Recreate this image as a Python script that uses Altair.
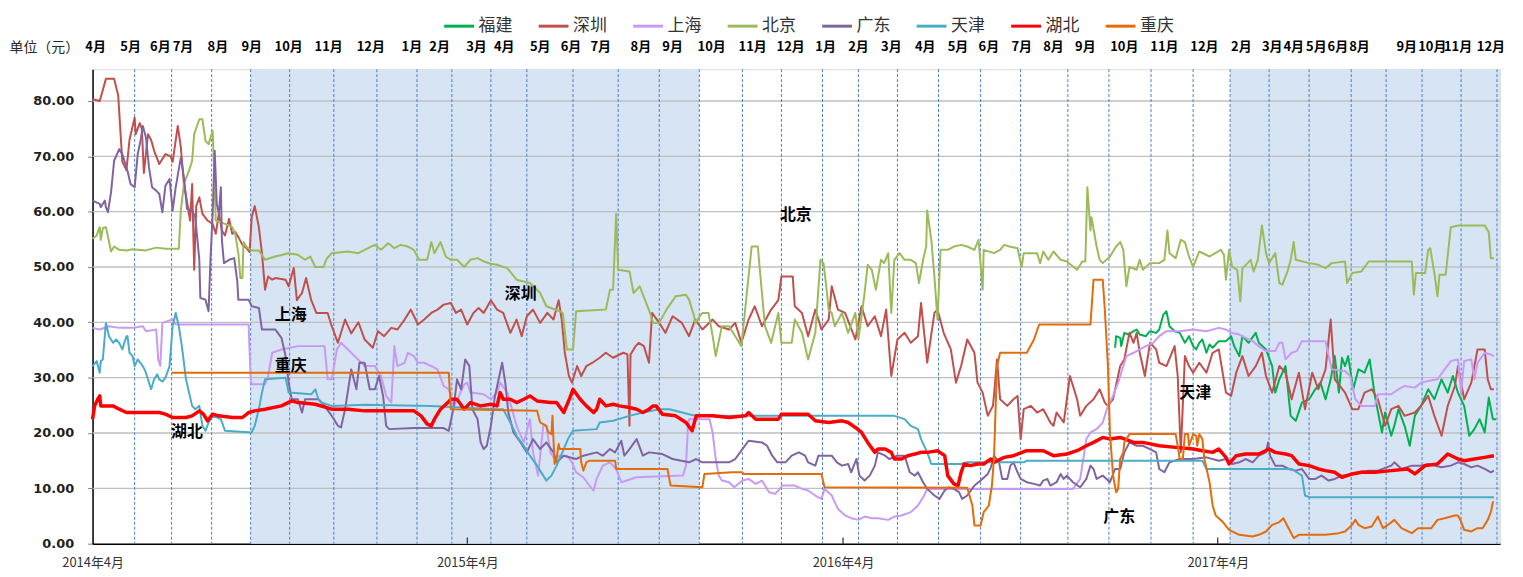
import altair as alt
import pandas as pd

# ---------------- data ----------------
BASE_DATE = "2014-04-01"          # day 0 of the time axis
Y_MAX = 85.75                     # top of the value axis
Y_TICKS = [0, 10, 20, 30, 40, 50, 60, 70, 80]

SERIES = ["福建", "深圳", "上海", "北京", "广东", "天津", "湖北", "重庆"]
COLORS = ["#00B050", "#C0504D", "#C99AF5", "#9BBB59", "#8064A2", "#4BACC6", "#FF0000", "#E46C0A"]

# x = days since 2014-04-01, y = price (元)
SZ_DAY = [0,7,10,13,21,25,27,29,33,36,41,42,46,48,50,54,57,60,65,71,76,78,83,86,89,91,95,97,99,101,
          104,107,112,117,120,123,126,129,133,136,139,142,146,150,153,155,158,162,165,168,
          171,175,178,188,191,196,199,204,208,213,218,229,233,239,246,252,259,265,273,278,
          284,291,297,304,310,317,323,330,336,342,349,354,359,365,371,376,381,388,394,
          400,407,413,418,423,429,436,443,449,454,457,460,464,467,472,476,481,487,494,500,
          507,517,521,523,524,529,532,537,542,545,552,558,565,574,581,587,594,604,610,620,
          626,632,639,645,652,661,668,671,682,684,691,697,704,710,717,720,726,733,743,749,
          755,762,768,773,778,784,791,797,804,807,813,820,823,829,836,841,846,852,859,862,
          867,872,877,
          878,881,884,891,897,901,904,907,914,920,926,933,936,939,946,952,959,962,968,975,
          981,986,989,994,1001,1005,1010,1014,1017,1020,1025,1030,1036,1039,1046,1054,1057,1060,1064,1068,
          1072,1078,1085,1091,1097,1104,1109,1114,1120,1126,1133,1139,1143,1149,1156,1162,1168,1175,1181,1188,
          1194,1201,1206,1210,1220,1227,1233,1239,1246,1252,1259,1265,1272,1278,1288,1294,1301,1307,1314,1320,
          1327,1330,1336,1343,1349,1356,1359,1362,1365]
SZ_VAL = [80.3,80.0,82,84,84,81,75,69,67.5,73,77,74,76,75,67,74,73,71,68.6,70.4,
          70,69,75.5,71.6,65,63,58.4,65,49.5,61,62.6,59.6,58.4,57.8,56,59.6,56.6,55.7,58.7,56,
          56.3,55.4,54,53.4,52.7,59,61,57.2,52.5,45.9,48.3,47.7,48,47.7,46.5,49.8,44,45.3,48,44,
          41.7,41.7,39.3,36.3,40.5,38,40,36.9,35.4,38.4,37.5,39,38.7,40.5,42.3,39.6,40.5,41.7,42.3,43.2,
          43.5,41.7,42.3,39.6,41.7,42.6,41.7,44,42.3,
          41.7,38.1,40.5,37.5,41.1,42.3,39.9,41.7,40.5,44,40.5,34.5,30.3,29.1,32.1,30.3,32.1,32.7,33.6,34.5,
          33.6,34.5,34.2,21.3,34.2,35.7,36.3,35.7,32.7,41.7,39.9,38.1,41.1,39.9,37.5,40.5,38.7,40.5,39.3,38.7,
          39.9,36.3,40.5,42.9,39.3,42.3,44,48.3,48.3,42.9,41.7,37.5,42.3,38.7,40.5,46.5,42.3,41.7,36.9,42.9,
          39.3,41.1,37.5,42.3,30.3,36.9,38.1,36.3,37.5,43.5,32.7,41.7,42.3,38.1,35.1,29.1,32.1,36.9,34.5,29.1,
          27.3,23.1,24.9,
          26.7,33.3,26.1,24.9,26.1,26.7,18.9,24.3,24.9,23.7,24.3,21.9,21.3,23.7,21.9,30.3,26.1,23.1,24.9,26.1,
          27.9,25.5,24.9,26.1,32.1,33.3,38.1,36.3,38.1,34.5,30.3,36.3,35.1,32.7,32.1,35.7,30.3,16.5,33.9,32.1,
          30.9,32.7,30.9,34.5,35.1,27.3,26.7,30.9,33.9,30.3,32.1,34.5,30.3,27.3,32.1,30.9,26.1,30.9,24.3,30.9,
          27.9,31.5,40.5,29.7,27.3,24.3,24.3,27.3,27.9,26.1,21.3,24.3,24.9,23.1,23.7,24.9,26.7,23.1,19.5,24.9,
          28.5,32.1,26.1,29.1,35.1,35.1,29.7,27.9,27.9]

BJ_DAY = [0,4,7,8,10,13,15,18,21,26,33,39,52,62,71,84,86,89,94,97,
          99,104,107,110,113,117,118,120,129,136,139,142,144,146,147,150,155,162,168,178,
          191,200,207,212,217,225,228,233,249,259,265,275,281,288,294,300,307,313,318,326,
          330,333,339,344,349,355,362,368,375,381,388,394,
          404,413,426,436,442,455,458,462,468,471,500,504,507,510,512,523,527,533,538,543,
          546,552,559,568,578,581,586,587,594,600,604,607,613,620,626,632,642,648,652,655,
          661,668,671,681,684,691,697,704,709,712,715,717,720,723,730,736,743,746,752,755,
          759,763,768,771,775,778,781,786,791,797,802,805,809,812,813,817,820,823,826,833,
          839,846,852,859,863,867,868,878,
          884,888,893,901,905,907,920,923,926,931,936,943,949,959,964,967,969,972,973,978,
          981,984,991,997,1001,1004,1007,1010,1017,1020,1023,1030,1039,1044,1047,1049,1055,1060,1064,1068,
          1072,1078,1088,1099,1102,1104,1107,1110,1115,1118,1120,1128,1131,1135,1139,1143,1146,1152,1156,1159,
          1164,1167,1170,1172,1185,1194,1201,1207,1220,1222,1227,1236,1243,1285,1287,1289,1298,1301,1303,1307,
          1310,1312,1318,1323,1330,1356,1360,1362,1365]
BJ_VAL = [55.1,55.7,57.2,54.9,57,57.2,55.5,52.8,53.7,53.1,53,53.2,53,53.5,53.3,53.3,60.2,65,67.4,69.2,
          74,76.7,76.7,72.8,72.2,74.6,69.8,58.4,57.8,57.2,56,52.5,48,48,54.5,53.6,53,53,51.3,51.9,
          52.5,52.2,51.3,51.9,50,50,51.5,52.5,52.8,52.5,53.1,54,53.1,54.3,53.4,54,53.7,53.1,51.3,51.3,
          54.5,52.5,54.5,51.9,51.3,51.3,50,51.3,51.6,51,50.6,50.4,
          49.8,47.7,47.1,45.3,42.9,42,41.7,35.1,35.1,42,42.3,45.9,45.9,59.6,49.5,49.2,45.3,46.5,44.1,41.7,
          39.9,39.9,42.3,44.7,45,44.1,41.1,39.9,41.7,41.7,37.5,33.9,39.3,39.3,37.5,35.7,53.7,53.7,45.3,39.3,
          36.3,41.7,36.3,36.3,40.5,38.1,33.3,38.1,51.3,50.7,45.9,42.3,41.7,39.3,41.7,38.1,41.7,36.9,45.3,50.4,
          49.5,45.9,51.3,50.7,52.5,41.7,51.3,52.5,51.3,51.3,50.7,47.1,51.3,53.7,60.2,54.9,48.3,40.5,53.1,53.1,
          53.7,54,53.7,53.1,54.9,45.9,53.1,52.5,
          53.1,54,53.7,53.4,50,52.5,52.5,50.7,52.8,51.3,52.8,51.3,51,49.5,51,51,64.4,56.6,59,53.7,
          51.3,50.7,51.9,53.7,54.5,53.1,46.5,50,49.5,51.3,49.5,50.7,50.7,51.3,56.6,52.5,51.6,54.9,54.5,51.9,
          50,52.8,51.9,53.1,52.2,47.7,53.1,50,49.5,43.8,49.7,51.3,49.2,51.3,57.5,52.5,50.7,52.5,47.1,46.8,
          49.2,51.3,54.5,51.3,50.7,50.4,49.8,50.7,51,47.1,48.9,49.2,51,51,45,48.9,48.9,53.1,53.4,48.9,
          44.7,48.6,48.6,57.2,57.5,57.5,56.3,51.6,51.6]

GD_DAY = [0,7,8,12,13,15,18,21,26,29,34,37,41,44,47,49,52,55,58,62,
          65,68,71,75,78,81,86,89,92,97,100,104,105,110,113,115,117,119,121,123,
          125,126,128,133,138,141,142,152,155,162,165,178,184,188,191,194,200,204,207,220,
          226,233,239,242,246,252,257,260,265,270,275,279,283,286,289,313,342,347,352,355,
          359,363,367,370,375,378,381,384,388,392,
          399,402,405,410,417,423,429,436,442,449,452,459,471,478,491,497,504,509,515,518,
          523,530,536,542,555,565,581,588,594,620,626,633,639,652,657,662,667,675,681,688,
          694,697,704,707,720,725,730,736,739,744,747,752,757,762,765,772,776,784,791,796,
          801,804,809,813,820,825,830,834,839,844,847,852,859,865,872,875,
          878,883,886,891,894,897,901,904,910,917,923,926,930,933,939,943,946,949,955,962,
          968,972,975,978,984,991,996,1001,1005,1010,1017,1023,1030,1036,1039,1044,1049,1059,1072,1085,
          1097,1104,1110,1117,1123,1130,1136,1143,1145,1147,1152,1159,1165,1172,1178,1185,1191,1197,1204,1210,
          1217,1223,1233,1243,1252,1265,1268,1275,1285,1294,1301,1307,1314,1323,1330,1336,1343,1349,1356,1362,1365]
GD_VAL = [62,61.4,60.8,62,60.8,59.9,63.5,69.2,71.3,70.4,67.4,65,64.4,70.4,73.1,75.5,73.4,68,64.4,63.8,
          63.2,59.9,64.7,65.9,60.2,64.4,69.8,66.2,60.5,60.2,59,51.3,44.4,44.1,42,51.9,59.6,71,61.4,59.6,
          64.4,54.8,50.7,51.3,51.6,47.4,44.1,44.1,42.9,42.6,38.7,38.7,37.2,33.9,29.1,26.1,26.1,23.7,26.1,26.1,
          24.9,23.1,21.3,21,24.3,31.5,27.9,32.7,32.7,27.9,27.9,30.3,26.7,21.3,20.7,20.9,20.9,20.4,24.9,29.7,
          27.9,33.3,32.1,24.3,22.5,18.3,17.1,17.7,21.3,26.7,
          32.7,29.1,23.7,20.1,18.3,16.5,18.9,17.1,18.3,16.5,14.7,15.9,15.3,15.9,16.5,15.9,17.1,16.5,18.6,15.9,
          17.1,18.9,15.9,16.5,16.2,15.3,14.7,15.3,14.7,14.7,15.3,17.1,18.6,18.3,17.7,15.9,14.7,14.7,15.9,16.5,
          15.9,14.7,14.1,15.9,15.9,14.7,14.1,14.4,12.9,15.3,12.3,11.4,12.3,14.1,16.5,15.9,15.3,15.9,15.9,12.9,
          12.3,12.9,11.1,9.9,8.7,8.1,9.6,10.2,9.9,9.3,8.1,8.7,10.5,11.4,12.6,13.8,
          15.9,14.7,11.7,11.7,14.1,14.7,12.9,11.7,11.1,10.8,10.5,11.4,11.7,10.5,11.1,12.6,11.7,12.3,11.1,10.2,
          11.7,14.1,13.5,11.7,12.3,11.1,13.5,13.5,16.5,18.3,17.7,17.7,17.1,16.5,13.5,12.9,14.7,15.3,15.3,15.6,
          15,15.3,14.4,14.7,15.3,14.7,15.9,16.5,18.3,15.9,14.1,14.1,13.5,13.2,13.5,11.7,11.7,12.3,11.4,11.7,
          12.3,12.3,12.9,13.2,13.2,14.1,14.7,13.5,14.1,14.1,14.4,14.1,13.8,14.1,14.7,14.4,13.8,14.1,13.5,12.9,13.2]

SH_DAY = [0,7,16,26,39,49,52,62,64,66,68,78,81,152,154,155,168,171,175,184,
          200,226,229,233,238,242,252,265,275,281,286,291,294,297,304,307,313,317,323,330,
          336,342,347,352,357,362,365,368,381,388,394,
          397,404,413,420,426,429,434,439,442,446,450,455,462,467,471,478,484,488,491,497,
          504,510,515,530,575,578,580,581,601,604,607,610,613,620,625,633,639,646,652,659,
          665,672,684,691,697,704,710,713,720,726,733,739,746,752,759,765,775,781,788,797,
          804,810,813,878,
          955,962,965,968,972,978,984,989,994,999,1004,1007,1014,1020,1026,1033,1039,1046,1059,1072,
          1085,1097,1104,1110,1117,1123,1130,1136,1143,1152,1156,1159,1162,1168,1173,1178,1201,1204,1207,1220,
          1225,1230,1236,1249,1252,1265,1272,1278,1288,1294,1301,1310,1317,1323,1330,1333,1336,1343,1346,1349,
          1356,1362,1365]
SH_VAL = [39,38.7,39.3,39,39,39.3,38.4,38.7,33.3,32.1,39.9,40.5,39.6,39.6,29.7,28.8,28.8,30.3,34.5,35.1,
          35.7,35.7,29.7,29.7,35.1,36.3,34.5,32.1,32.1,30.3,26.7,25.5,35.7,32.1,32.7,34.5,33.9,32.7,32.7,32.1,
          31.5,28.5,27.9,24.9,26.7,28.8,29.1,27.3,27,26.1,27.3,
          29.1,27.3,21.3,18.3,22.5,16.5,12.3,21.3,21.3,16.5,15.3,15.9,15.9,14.7,12.9,12,10.5,9.6,11.7,14.1,
          14.7,13.5,11.1,12,12.3,14.1,21.3,22.5,22.5,20.1,15.3,12.3,11.4,11.1,10.2,11.4,11.7,10.8,11.4,9.3,
          9,10.5,10.5,9.9,9.6,8.7,8.1,9.9,8.7,6.3,5.1,4.6,4.3,4.9,4.6,4.6,4.3,4.9,5.1,5.7,
          6.9,8.7,9.9,9.9,
          9.9,11.7,15.3,18.9,20.1,20.7,21.9,24.9,26.7,29.1,32.1,33.9,34.5,35.1,35.7,36.3,37.5,38.4,38.4,38.7,
          38.4,39,38.7,38.1,37.8,37.2,36.6,35.7,34.8,34.8,36.3,36.3,33.3,34.5,34.8,36.6,36.6,33.9,31.5,31.2,
          30.3,26.1,24.9,24.9,27,27,27.9,28.5,28.2,29.1,29.4,29.7,31.5,33,33.3,27.3,33,33.3,29.7,32.7,
          34.5,34.2,33.9]

TJ_DAY = [0,4,7,8,10,13,16,20,23,26,29,33,34,36,39,41,44,49,52,57,
          60,63,65,68,71,75,78,81,84,87,91,94,97,100,104,107,110,113,117,125,
          129,155,158,162,165,168,188,191,213,217,220,223,233,265,330,394,400,407,413,420,
          426,433,439,442,447,452,459,463,468,491,494,507,523,536,552,562,581,588,781,791,
          797,804,807,813,817,846,852,878,907,910,1081,1085,1168,1178,1181,1185,1365]
TJ_VAL = [32.1,33,30.9,33,33.3,39.9,37.5,36.3,36.9,36.3,35.1,37.5,37.5,34.5,33.9,32.1,33.3,32.1,30.9,27.9,
          29.7,30.6,29.7,29.3,30,32.1,39.3,41.7,39.3,35.7,29.7,27.3,24.9,24.3,24.9,21.3,20.4,21.9,23.1,22.5,
          20.4,20.1,21.3,24.3,27.3,29.7,30,27.3,27,27.9,26.1,25.5,24.9,25.1,24.9,24.3,24.3,21.9,19.5,17.7,
          15.9,14.1,12.3,11.4,12.3,14.1,17.1,18.9,20.4,20.7,21.9,22.2,23.1,23.7,24.3,24.3,23.4,23.1,23.1,22.5,
          21.3,20.7,18.9,16.5,14.4,14.4,14.7,14.7,14.7,15,15,13.5,13.5,12.3,8.7,8.4,8.4]

HB_DAY = [0,2,5,7,8,12,20,26,33,46,65,71,78,91,97,104,108,112,117,123,
          136,146,152,158,168,184,194,200,217,233,249,265,281,313,320,326,330,333,339,346,
          349,355,362,368,378,388,394,
          397,400,407,413,420,426,433,446,452,459,465,468,475,481,488,491,494,500,507,513,
          523,530,536,542,546,549,555,568,578,584,588,604,620,636,639,646,652,668,671,684,
          697,704,717,730,736,743,749,755,762,765,772,778,781,788,794,801,807,813,823,830,
          833,839,843,846,849,855,862,868,875,
          878,888,897,910,926,936,949,959,968,975,984,991,1001,1014,1023,1039,1055,1072,1081,1091,
          1097,1104,1107,1114,1123,1136,1146,1152,1162,1168,1175,1185,1194,1201,1210,1217,1227,1236,1249,1265,
          1281,1288,1298,1310,1320,1330,1336,1346,1356,1365]
HB_VAL = [22.5,24.9,26.1,26.7,24.9,24.9,24.9,24.3,23.7,23.7,23.7,23.4,22.8,22.8,23.1,24,23.4,22.2,23.4,23.1,
          22.8,22.8,23.7,24,24.3,24.9,25.8,25.5,25.2,24.3,24.3,24,24,24,23.1,21.6,21.3,22.5,24.3,25.5,
          26.1,26.1,24.3,25.5,24.9,25.2,24.9,
          27.3,26.1,26.1,25.5,26.1,26.7,25.8,25.5,25.5,23.7,26.4,27.9,26.1,24.9,23.7,24.3,26.1,24.9,25.2,24.9,
          24.6,24.3,23.7,24.3,24.9,24.9,23.4,23.1,21.9,20.4,23.1,23.1,22.8,23.1,23.7,22.5,22.5,22.5,23.4,23.4,
          23.4,22.2,21.9,22.2,21.9,21,20.1,18.3,16.5,17.1,17.1,16.5,15.3,15.3,15.9,16.2,16.5,16.5,16.8,15.9,
          12.3,10.8,10.5,12.9,14.4,14.1,14.4,14.4,15.3,
          14.7,15.6,15.9,16.8,16.8,15.9,16.2,16.8,17.7,18.3,19.2,18.9,19.2,18.3,18.3,17.7,17.4,17.1,16.8,16.5,
          17.1,15.6,14.4,15.9,16.2,16.2,17.1,16.5,16.2,15.9,14.4,14.1,13.5,13.2,12.9,12,12.6,12.9,12.9,13.2,
          13.5,12.6,14.1,14.4,16.2,15.3,15,15.3,15.6,15.9]

CQ_DAY = [77,347,349,433,436,442,444,447,448,450,452,454,455,475,476,478,481,484,509,510,
          560,563,594,596,623,633,634,710,713,852,857,859,865,868,873,876,878,881,884,910,
          917,922,972,975,984,986,989,991,994,997,999,1001,1004,1005,1010,1055,1057,1059,1062,1064,
          1067,1068,1072,1075,1076,1078,1081,1083,1088,1091,1094,1101,1107,1117,1130,1136,1143,1149,1156,1160,
          1165,1170,1175,1201,1214,1220,1227,1230,1233,1239,1246,1252,1257,1262,1268,1275,1285,1291,1304,1310,
          1317,1327,1330,1333,1336,1343,1349,1354,1359,1362,1364,1365]
CQ_VAL = [30.9,30.9,24.3,24,21.9,21.3,20.1,19.8,23.1,14.4,15.3,18,17.1,17.1,14.7,13.2,14.7,15,15,13.5,
          13.5,10.5,10.2,12.6,12.9,12.9,12.6,12.6,10.2,10.1,6.9,3.3,3.3,5.7,6.9,10.5,15.3,32.1,34.5,34.5,
          36.9,39.6,39.6,47.7,47.7,42.3,32.1,20.1,12.3,9.3,9.9,15.3,16.5,18.3,19.8,19.8,17.7,15.3,15.3,19.8,
          19.8,17.7,19.8,19.5,17.7,19.8,18.9,15.3,11.1,6.9,5.1,3.9,2.5,1.6,1.3,1.6,2.2,3.4,3.9,4.6,
          2.8,1,1.6,1.6,1.9,2.2,3.4,4.3,3.4,2.8,3.1,4.9,2.8,3.4,4.3,2.8,1.9,2.8,2.8,4.3,
          4.6,5.1,5.1,4,2.5,2.2,2.8,2.8,4.3,5.7,7.5,7.5]

FJ_DAY = [996,997,1001,1002,1005,1009,1014,1017,1020,1026,1030,1036,1039,1043,1046,1049,1054,1059,1064,1068,
          1072,1075,1078,1081,1085,1088,1091,1097,1104,1109,1112,1117,1120,1126,1133,1136,1143,1149,1152,1156,
          1162,1167,1172,1178,1185,1191,1196,1201,1206,1210,1214,1217,1220,1223,1228,1233,1239,1244,1249,1256,
          1259,1265,1268,1272,1278,1283,1288,1294,1301,1307,1314,1320,1325,1330,1336,1341,1346,1351,1356,1360,
          1364,1367]
FJ_VAL = [35.4,37.5,37.2,35.7,38.1,37.8,38.4,38.7,37.8,37.5,38.4,38.1,38.7,41.4,42,39.3,38.4,38.1,36.3,37.5,
          35.7,35.1,36.3,36.9,34.5,36,35.4,36.6,36.6,37.5,35.7,33.9,37.5,36.3,38.1,36.3,35.1,32.1,27.3,29.7,
          32.1,23.1,22.2,25.5,26.1,27.9,29.1,26.1,29.7,33.9,27.3,33.6,32.1,33.9,27.9,31.5,30.9,33.3,26.7,20.1,
          23.7,19.5,21.3,24.3,21.3,17.7,23.1,24.9,27.9,26.1,29.7,27.3,30.3,27.3,24.9,19.5,20.7,22.5,20.1,26.4,
          22.5,22.5]

# vertical dashed month separators and shaded periods (days since 2014-04-01)
DIVIDER_DAY = [41,77,116,154,192,235,277,316,350,388,423,468,512,552,591,633,671,711,746,784,
               824,865,904,950,990,1031,1072,1108,1146,1185,1226,1260,1295,1333,1368]
SHADE_START_DAY = [154, 1108]
SHADE_END_DAY = [591, 1371]
YEAR_TICK_DAY = [365, 731, 1096]

# month labels along the top
MONTH_LABEL = ["4月","5月","6月","7月","8月","9月","10月","11月","12月","1月","2月","3月",
               "4月","5月","6月","7月","8月","9月","10月","11月","12月","1月","2月","3月",
               "4月","5月","6月","7月","8月","9月","10月","11月","12月","2月","3月","4月",
               "5月","6月","8月","9月","10月","11月","12月"]
MONTH_LABEL_DAY = [3,37,66,88,122,155,191,230,271,311,338,374,401,436,466,495,534,565,603,643,
                   680,714,746,778,811,843,873,905,936,967,1005,1044,1083,1119,1149,1170,1192,1213,1234,1280,
                   1305,1330,1362]

# in-plot series names
NOTE_TEXT = ["北京", "深圳", "上海", "重庆", "湖北", "天津", "广东"]
NOTE_DAY = [685, 417, 193, 193, 92, 1074, 1000]
NOTE_VAL = [59.4, 45.2, 41.4, 32.1, 20.1, 27.3, 4.9]

# ---------------- tables ----------------
base = pd.Timestamp(BASE_DATE)


def to_date(days):
    return base + pd.to_timedelta(pd.Series(days, dtype="float64"), unit="D")


series_data = {
    "福建": (FJ_DAY, FJ_VAL), "深圳": (SZ_DAY, SZ_VAL), "上海": (SH_DAY, SH_VAL),
    "北京": (BJ_DAY, BJ_VAL), "广东": (GD_DAY, GD_VAL), "天津": (TJ_DAY, TJ_VAL),
    "湖北": (HB_DAY, HB_VAL), "重庆": (CQ_DAY, CQ_VAL),
}
frames = []
for name in SERIES:
    d, v = series_data[name]
    if len(d) != len(v):
        raise ValueError(f"{name}: {len(d)} days vs {len(v)} values")
    frames.append(pd.DataFrame({"date": to_date(d), "value": v, "series": name}))
lines_df = pd.concat(frames, ignore_index=True)

shade_df = pd.DataFrame({"start": to_date(SHADE_START_DAY), "end": to_date(SHADE_END_DAY),
                         "y0": 0.0, "y1": Y_MAX})
divider_df = pd.DataFrame({"date": to_date(DIVIDER_DAY)})
grid_df = pd.DataFrame({"v": Y_TICKS[1:]})
yeartick_df = pd.DataFrame({"date": to_date(YEAR_TICK_DAY), "y0": 0.0, "y1": 1.1})
month_df = pd.DataFrame({"date": to_date(MONTH_LABEL_DAY), "label": MONTH_LABEL})
note_df = pd.DataFrame({"date": to_date(NOTE_DAY), "value": NOTE_VAL, "label": NOTE_TEXT})

# ---------------- scales / axes ----------------
CJK = "Noto Sans CJK SC"
x_scale = alt.Scale(domain=[alt.DateTime(year=2014, month=4, date=1),
                            alt.DateTime(year=2018, month=1, date=1)], nice=False)
y_scale = alt.Scale(domain=[0, Y_MAX], nice=False, zero=True)

X_AXIS = alt.Axis(values=[alt.DateTime(year=y, month=4, date=1) for y in (2014, 2015, 2016, 2017)],
                  format="%Y年%-m月", labelFont=CJK, labelFontSize=13, labelColor="#333333",
                  labelPadding=13, ticks=False, grid=False, title=None, labelFlush=False,
                  domainColor="#000000", domainWidth=1.5)
Y_AXIS = alt.Axis(values=Y_TICKS, format=".2f", labelFont="DejaVu Sans", labelFontWeight="bold",
                  labelFontSize=13, labelColor="#1F1F1F", tickSize=5, tickColor="#808080",
                  labelPadding=14, grid=False, domainColor="#000000", domainWidth=1.5,
                  title="单位（元）", titleAngle=0, titleX=-49, titleY=-22, titleAlign="center",
                  titleBaseline="middle", titleFont=CJK, titleFontSize=14, titleFontWeight="normal",
                  titleColor="#262626")
LEGEND = alt.Legend(title=None, orient="none", legendX=352, legendY=-60, direction="horizontal",
                    columns=8, symbolType="stroke", symbolSize=900, symbolStrokeWidth=3,
                    labelFont=CJK, labelFontSize=17, labelColor="#333333", labelOffset=3,
                    columnPadding=20, padding=0)
color = alt.Color("series:N", scale=alt.Scale(domain=SERIES, range=COLORS), legend=LEGEND)

x_enc = alt.X("date:T", scale=x_scale, axis=X_AXIS)

shade = alt.Chart(shade_df).mark_rect(color="#D7E4F4").encode(
    x=alt.X("start:T", scale=x_scale, axis=X_AXIS), x2="end:T",
    y=alt.Y("y0:Q", scale=y_scale, axis=Y_AXIS), y2="y1:Q")

grid = alt.Chart(grid_df).mark_rule(color="#BFBFBF", strokeWidth=1.3).encode(
    y=alt.Y("v:Q", scale=y_scale, axis=Y_AXIS))

dividers = alt.Chart(divider_df).mark_rule(color="#4A7EC7", strokeWidth=1, strokeDash=[3, 2]).encode(
    x=x_enc)

yearticks = alt.Chart(yeartick_df).mark_rule(color="#000000", strokeWidth=1).encode(
    x=x_enc, y=alt.Y("y0:Q", scale=y_scale, axis=Y_AXIS), y2="y1:Q")

line_layers = []
for name in SERIES:
    line_layers.append(
        alt.Chart(lines_df).transform_filter(alt.datum.series == name)
        .mark_line(strokeWidth=3.5 if name == "湖北" else 2, strokeJoin="round")
        .encode(x=x_enc, y=alt.Y("value:Q", scale=y_scale, axis=Y_AXIS), color=color)
    )

notes = alt.Chart(note_df).mark_text(font=CJK, fontSize=16, fontWeight="bold", color="#000000",
                                     align="center", baseline="middle").encode(
    x=x_enc, y=alt.Y("value:Q", scale=y_scale, axis=Y_AXIS), text="label:N")

months = alt.Chart(month_df).mark_text(font=CJK, fontSize=13, fontWeight="bold", color="#000000",
                                       align="center", baseline="middle").encode(
    x=x_enc, y=alt.value(-22), text="label:N")

chart = alt.layer(shade, grid, dividers, yearticks, *line_layers, notes, months).properties(
    width=1415, height=477,
    padding={"left": 85, "top": 60, "right": 15, "bottom": 31},
    autosize=alt.AutoSizeParams(type="none"),
).configure_view(stroke=None).configure(background="#FFFFFF")

chart.save("out.html", embed_options={"renderer": "svg", "actions": False})
